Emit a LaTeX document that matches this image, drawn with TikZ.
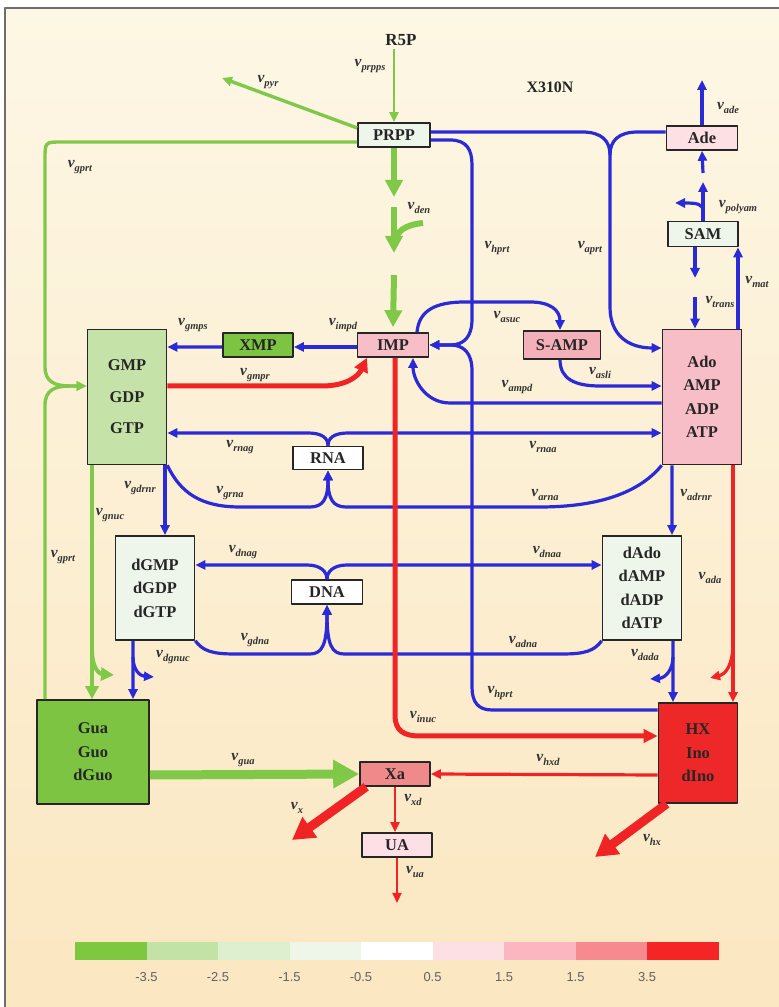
\documentclass[tikz,border=0pt]{standalone}
\usepackage{fontspec}
\setmainfont{Liberation Serif}
\newfontfamily\barfont{Liberation Sans}
\usetikzlibrary{arrows.meta}
\newcommand{\flux}[1]{{\fontsize{15.5}{15}\selectfont\bfseries\itshape v}{\fontsize{10.5}{11}\selectfont\bfseries\itshape\raisebox{-3.5bp}{#1}}}

\definecolor{bgtop}{RGB}{253,247,229}
\definecolor{bgbot}{RGB}{251,231,193}
\definecolor{framegray}{RGB}{110,110,110}
\definecolor{fluxgreen}{RGB}{128,200,72}
\definecolor{fluxblue}{RGB}{42,42,214}
\definecolor{fluxred}{RGB}{240,36,36}

\tikzset{
  metabox/.style={draw=black!85,line width=1.6bp,inner sep=0pt,align=center,
    font=\fontsize{16.5}{23.5}\selectfont\bfseries,text=black!85},
  flux/.style={inner sep=0pt,text=black!80},
  gline/.style={draw=fluxgreen,line width=3.4bp},
  bline/.style={draw=fluxblue,line width=3.2bp},
  rline/.style={draw=fluxred,line width=3.2bp},
  bigtip/.style={-{Triangle[length=17bp,width=17bp]}},
}

\begin{document}
\begin{tikzpicture}[>={Triangle[length=10bp,width=9bp]},line join=round]
%%
  \path[use as bounding box] (0bp,0bp) rectangle (779bp,1007bp);
  \fill[white] (0bp,0bp) rectangle (779bp,1007bp);
  \shade[top color=bgtop,bottom color=bgbot] (5bp,0bp) rectangle (779bp,999bp);
  \draw[framegray,line width=1.5bp] (5bp,0bp) -- (5bp,999bp) -- (779bp,999bp);
%%
  \node (r5p) at (401bp,967bp) [font=\fontsize{17}{18}\selectfont\bfseries,text=black!85] {R5P};
  \node (strain) at (550bp,920bp) [font=\fontsize{16}{18}\selectfont\bfseries,text=black!85] {X310N};
  \definecolor{fillcolor}{RGB}{238,245,234};
  \node (prpp) at (394bp,872bp) [metabox,fill=fillcolor,minimum width=72bp,minimum height=24bp] {PRPP};
  \definecolor{fillcolor}{RGB}{252,224,228};
  \node (ade) at (702bp,869bp) [metabox,fill=fillcolor,minimum width=71bp,minimum height=24bp] {Ade};
  \definecolor{fillcolor}{RGB}{238,245,234};
  \node (sam) at (703bp,773bp) [metabox,fill=fillcolor,minimum width=70bp,minimum height=25bp] {SAM};
  \definecolor{fillcolor}{RGB}{248,190,200};
  \node (imp) at (393bp,662bp) [metabox,fill=fillcolor,minimum width=71bp,minimum height=24bp] {IMP};
  \definecolor{fillcolor}{RGB}{125,196,66};
  \node (xmp) at (258bp,662bp) [metabox,fill=fillcolor,minimum width=70bp,minimum height=24bp] {XMP};
  \definecolor{fillcolor}{RGB}{244,176,184};
  \node (samp) at (562bp,662bp) [metabox,fill=fillcolor,minimum width=77bp,minimum height=28bp] {S-AMP};
  \definecolor{fillcolor}{RGB}{197,227,168};
  \node (gmp) at (127bp,610bp) [metabox,fill=fillcolor,minimum width=79bp,minimum height=135bp] {GMP\\[8bp]GDP\\[8bp]GTP};
  \definecolor{fillcolor}{RGB}{248,190,200};
  \node (ado) at (702bp,610bp) [metabox,fill=fillcolor,minimum width=79bp,minimum height=135bp] {Ado\\AMP\\ADP\\ATP};
  \node (rna) at (328bp,549bp) [metabox,fill=white,minimum width=70bp,minimum height=23bp] {RNA};
  \node (dna) at (327bp,415bp) [metabox,fill=white,minimum width=71bp,minimum height=24bp] {DNA};
  \definecolor{fillcolor}{RGB}{238,245,234};
  \node (dgmp) at (155bp,419bp) [metabox,fill=fillcolor,minimum width=79bp,minimum height=104bp] {dGMP\\dGDP\\dGTP};
  \node (dado) at (642bp,419bp) [metabox,fill=fillcolor,minimum width=79bp,minimum height=104bp] {dAdo\\dAMP\\dADP\\dATP};
  \definecolor{fillcolor}{RGB}{125,196,66};
  \node (gua) at (93bp,255bp) [metabox,fill=fillcolor,minimum width=112bp,minimum height=104bp] {Gua\\Guo\\dGuo};
  \definecolor{fillcolor}{RGB}{238,40,40};
  \node (hx) at (698bp,254bp) [metabox,fill=fillcolor,minimum width=79bp,minimum height=100bp] {HX\\Ino\\dIno};
  \definecolor{fillcolor}{RGB}{240,138,138};
  \node (xa) at (395bp,233bp) [metabox,fill=fillcolor,minimum width=70bp,minimum height=24bp] {Xa};
  \definecolor{fillcolor}{RGB}{253,224,230};
  \node (ua) at (397bp,162bp) [metabox,fill=fillcolor,minimum width=70bp,minimum height=24bp] {UA};
%%
  \coordinate (pyr_end) at (222bp,929bp);
  \coordinate (ade_end) at (702bp,927bp);
  \coordinate (polyam_end) at (675bp,804bp);
  \coordinate (ua_end) at (397bp,104bp);
  \coordinate (x_end) at (292bp,167bp);
  \coordinate (hx_end) at (595bp,150bp);
  \coordinate (den_a) at (394bp,810bp);
  \coordinate (den_b) at (394bp,800bp);
  \coordinate (den_c) at (394bp,754bp);
  \coordinate (den_d) at (394bp,732bp);
  \coordinate (den_in) at (423bp,784bp);
  \coordinate (polyam_a) at (703bp,825bp);
  \coordinate (polyam_b) at (703bp,834bp);
  \coordinate (trans_a) at (695bp,729bp);
  \coordinate (trans_b) at (695bp,710bp);
  \coordinate (gnuc_end) at (114bp,332bp);
  \coordinate (dgnuc_end) at (154bp,330bp);
  \coordinate (dada_end) at (650bp,328bp);
  \coordinate (ada_end) at (710bp,329bp);
%% green
  \draw [gline,line width=2.4bp,->] (r5p.south -| prpp.north) -- (prpp.north);
  \draw [gline,->] ([yshift=7bp]prpp.west) -- (pyr_end);
  \draw [gline,->] ([yshift=-7bp]prpp.west) -- (62bp,865bp) .. controls (45bp,865bp) .. (45bp,848bp) -- (45bp,640bp) .. controls (45bp,625bp) and (55bp,621bp) .. (70bp,621bp) -- ([yshift=11bp]gmp.west);
  \draw [gline,->] ([xshift=-48bp]gua.north) -- (45bp,602bp) .. controls (45bp,617bp) and (55bp,621bp) .. (70bp,621bp) -- ([yshift=11bp]gmp.west);
  \draw [gline,line width=6bp,bigtip] (prpp.south) -- (den_a);
  \draw [gline,line width=6bp,bigtip] (den_b) -- (den_c);
  \draw [gline,line width=6bp] (den_in) .. controls (405bp,782bp) and (396bp,776bp) .. (395bp,764bp);
  \draw [gline,line width=6bp,bigtip] (den_d) -- ([yshift=5bp]imp.north);
  \draw [gline,line width=4bp,-{Triangle[length=13bp,width=13bp]}] ([xshift=-35bp]gmp.south) -- ([xshift=-1bp]gua.north);
  \draw [gline,line width=4bp,-{Triangle[length=13bp,width=13bp]}] (92bp,356bp) .. controls (92bp,340bp) and (99bp,333bp) .. (gnuc_end);
  \draw [gline,line width=9bp,-{Triangle[length=26bp,width=27bp]}] ([yshift=-23bp]gua.east) -- (xa.west);
%% blue
  \draw [bline,->] ([yshift=3bp]prpp.east) -- (582bp,875bp) .. controls (602bp,875bp) and (610bp,866bp) .. (610bp,852bp) -- (610bp,700bp) .. controls (610bp,672bp) and (628bp,659bp) .. ([yshift=49bp]ado.west);
  \draw [bline] ([yshift=6bp]ade.west) -- (638bp,875bp) .. controls (618bp,875bp) and (610bp,866bp) .. (610bp,852bp);
  \draw [bline,->] ([yshift=-5bp]prpp.east) -- (450bp,867bp) .. controls (467bp,867bp) and (472bp,857bp) .. (472bp,842bp) -- (472bp,688bp) .. controls (472bp,670bp) and (464bp,662bp) .. (450bp,662bp) -- (imp.east);
  \draw [bline,->] ([yshift=43bp]hx.west) -- (492bp,297bp) .. controls (478bp,297bp) and (472bp,305bp) .. (472bp,320bp) -- (472bp,636bp) .. controls (472bp,654bp) and (464bp,662bp) .. (450bp,662bp) -- (imp.east);
  \draw [bline,->] ([xshift=24bp]imp.north) .. controls (419bp,697bp) and (436bp,705bp) .. (465bp,705bp) -- (530bp,705bp) .. controls (550bp,705bp) and (560bp,697bp) .. ([xshift=-2bp]samp.north);
  \draw [bline,->] ([xshift=-2bp]samp.south) .. controls (560bp,628bp) and (575bp,621bp) .. (600bp,621bp) -- ([yshift=11bp]ado.west);
  \draw [bline,->] ([yshift=-6bp]ado.west) -- (450bp,604bp) .. controls (425bp,604bp) and (413bp,628bp) .. ([xshift=20bp]imp.south);
  \draw [bline,->] ([yshift=-2bp]imp.west) -- ([yshift=-2bp]xmp.east);
  \draw [bline,->] ([yshift=-2bp]xmp.west) -- ([yshift=50bp]gmp.east);
  \draw [bline,->] (rna.north) .. controls (328bp,569bp) and (322bp,574bp) .. (308bp,574bp) -- ([yshift=-36bp]gmp.east);
  \draw [bline,->] (rna.north) .. controls (328bp,569bp) and (334bp,574bp) .. (348bp,574bp) -- ([yshift=-36bp]ado.west);
  \draw [bline,->] (gmp.south east) .. controls (180bp,515bp) and (200bp,500bp) .. (240bp,500bp) -- (310bp,500bp) .. controls (323bp,500bp) and (328bp,508bp) .. (rna.south);
  \draw [bline,->] (ado.south west) .. controls (640bp,515bp) and (600bp,500bp) .. (540bp,500bp) -- (346bp,500bp) .. controls (333bp,500bp) and (328bp,508bp) .. (rna.south);
  \draw [bline,->] ([xshift=38bp]gmp.south) -- ([xshift=10bp]dgmp.north);
  \draw [bline,->] ([xshift=-30bp]ado.south) -- ([xshift=30bp]dado.north);
  \draw [bline,->] (dna.north) .. controls (327bp,435bp) and (321bp,442bp) .. (307bp,442bp) -- ([yshift=23bp]dgmp.east);
  \draw [bline,->] (dna.north) .. controls (327bp,435bp) and (333bp,442bp) .. (347bp,442bp) -- ([yshift=23bp]dado.west);
  \draw [bline,->] (dgmp.south east) .. controls (203bp,356bp) and (212bp,353bp) .. (235bp,353bp) -- (310bp,353bp) .. controls (322bp,353bp) and (327bp,362bp) .. (dna.south);
  \draw [bline,->] (dado.south west) .. controls (594bp,356bp) and (585bp,353bp) .. (562bp,353bp) -- (344bp,353bp) .. controls (332bp,353bp) and (327bp,362bp) .. (dna.south);
  \draw [bline,->] ([xshift=-22bp]dgmp.south) -- ([xshift=40bp]gua.north);
  \draw [bline,->] (133bp,350bp) .. controls (133bp,337bp) and (140bp,331bp) .. (dgnuc_end);
  \draw [bline,->] ([xshift=31bp]dado.south) -- ([xshift=-25bp]hx.north);
  \draw [bline,->] (673bp,350bp) .. controls (673bp,337bp) and (665bp,329bp) .. (dada_end);
  \draw [bline,->] (ade.north) -- (ade_end);
  \draw [bline,->] (sam.north) -- (polyam_a);
  \draw [bline,->] (703bp,796bp) .. controls (703bp,803bp) and (697bp,804bp) .. (polyam_end);
  \draw [bline,->] (polyam_b) -- (ade.south);
  \draw [bline,->] ([xshift=-8bp]sam.south) -- (trans_a);
  \draw [bline,->] (trans_b) -- ([xshift=-7bp]ado.north);
  \draw [bline,->] ([xshift=36bp]ado.north) -- ([xshift=35bp]sam.south);
%% red
  \draw [rline,line width=5bp,-{Triangle[length=14bp,width=14bp]}] ([yshift=11bp]gmp.east) -- (322bp,621bp) .. controls (345bp,621bp) and (358bp,630bp) .. ([xshift=-26bp]imp.south);
  \draw [rline,line width=5bp,-{Triangle[length=14bp,width=13bp]}] ([xshift=2bp]imp.south) -- (395bp,292bp) .. controls (395bp,276bp) and (404bp,271bp) .. (420bp,271bp) -- ([yshift=17bp]hx.west);
  \draw [rline,->] ([xshift=31bp]ado.south) -- ([xshift=35bp]hx.north);
  \draw [rline,->] (733bp,365bp) .. controls (733bp,342bp) and (726bp,333bp) .. (ada_end);
  \draw [rline,->] ([yshift=-22bp]hx.west) -- (xa.east);
  \draw [rline,line width=2.2bp,->] (xa.south) -- ([xshift=-2bp]ua.north);
  \draw [rline,line width=2.2bp,->] (ua.south) -- (ua_end);
  \draw [rline,line width=9bp,-{Triangle[length=22bp,width=24bp]}] ([xshift=7bp]xa.south west) -- (x_end);
  \draw [rline,line width=9bp,-{Triangle[length=22bp,width=24bp]}] ([xshift=9bp]hx.south west) -- (hx_end);
%% flux labels
  \node (l_prpps) at (370bp,941bp) [flux] {\flux{prpps}};
  \node (l_pyr) at (268bp,925bp) [flux] {\flux{pyr}};
  \node (l_gprt1) at (80bp,840bp) [flux] {\flux{gprt}};
  \node (l_gprt2) at (63bp,450bp) [flux] {\flux{gprt}};
  \node (l_den) at (419bp,799bp) [flux] {\flux{den}};
  \node (l_hprt1) at (497bp,759bp) [flux] {\flux{hprt}};
  \node (l_aprt) at (590bp,759bp) [flux] {\flux{aprt}};
  \node (l_ade) at (728bp,899bp) [flux] {\flux{ade}};
  \node (l_polyam) at (738bp,800bp) [flux] {\flux{polyam}};
  \node (l_trans) at (720bp,705bp) [flux] {\flux{trans}};
  \node (l_mat) at (757bp,725bp) [flux] {\flux{mat}};
  \node (l_gmps) at (193bp,682bp) [flux] {\flux{gmps}};
  \node (l_impd) at (343bp,682bp) [flux] {\flux{impd}};
  \node (l_asuc) at (507bp,690bp) [flux] {\flux{asuc}};
  \node (l_asli) at (600bp,634bp) [flux] {\flux{asli}};
  \node (l_ampd) at (517bp,620bp) [flux] {\flux{ampd}};
  \node (l_gmpr) at (255bp,632bp) [flux] {\flux{gmpr}};
  \node (l_rnag) at (240bp,560bp) [flux] {\flux{rnag}};
  \node (l_rnaa) at (543bp,560bp) [flux] {\flux{rnaa}};
  \node (l_grna) at (230bp,514bp) [flux] {\flux{grna}};
  \node (l_arna) at (545bp,512bp) [flux] {\flux{arna}};
  \node (l_gdrnr) at (140bp,519bp) [flux] {\flux{gdrnr}};
  \node (l_adrnr) at (696bp,512bp) [flux] {\flux{adrnr}};
  \node (l_gnuc) at (110bp,492bp) [flux] {\flux{gnuc}};
  \node (l_dnag) at (243bp,455bp) [flux] {\flux{dnag}};
  \node (l_dnaa) at (547bp,455bp) [flux] {\flux{dnaa}};
  \node (l_gdna) at (255bp,367bp) [flux] {\flux{gdna}};
  \node (l_adna) at (523bp,365bp) [flux] {\flux{adna}};
  \node (l_dgnuc) at (173bp,350bp) [flux] {\flux{dgnuc}};
  \node (l_dada) at (645bp,352bp) [flux] {\flux{dada}};
  \node (l_ada) at (710bp,429bp) [flux] {\flux{ada}};
  \node (l_hprt2) at (500bp,314bp) [flux] {\flux{hprt}};
  \node (l_inuc) at (423bp,290bp) [flux] {\flux{inuc}};
  \node (l_gua) at (243bp,247bp) [flux] {\flux{gua}};
  \node (l_hxd) at (548bp,247bp) [flux] {\flux{hxd}};
  \node (l_xd) at (413bp,207bp) [flux] {\flux{xd}};
  \node (l_x) at (297bp,199bp) [flux] {\flux{x}};
  \node (l_hx) at (652bp,167bp) [flux] {\flux{hx}};
  \node (l_ua) at (415bp,135bp) [flux] {\flux{ua}};
%% colour bar
  \fill[fill={rgb,255:red,125;green,200;blue,62}] (75bp,47bp) rectangle (146.5bp,65bp);
  \fill[fill={rgb,255:red,194;green,227;blue,165}] (146.5bp,47bp) rectangle (218bp,65bp);
  \fill[fill={rgb,255:red,222;green,239;blue,208}] (218bp,47bp) rectangle (289.5bp,65bp);
  \fill[fill={rgb,255:red,238;green,246;blue,234}] (289.5bp,47bp) rectangle (361bp,65bp);
  \fill[fill=white] (361bp,47bp) rectangle (432.5bp,65bp);
  \fill[fill={rgb,255:red,253;green,224;blue,228}] (432.5bp,47bp) rectangle (504bp,65bp);
  \fill[fill={rgb,255:red,251;green,182;blue,192}] (504bp,47bp) rectangle (575.5bp,65bp);
  \fill[fill={rgb,255:red,246;green,138;blue,142}] (575.5bp,47bp) rectangle (647bp,65bp);
  \fill[fill={rgb,255:red,245;green,37;blue,37}] (647bp,47bp) rectangle (718.5bp,65bp);
  \node (t1) at (146.5bp,30bp) [font=\barfont\fontsize{13}{15}\selectfont,text=black!62] {-3.5};
  \node (t2) at (218bp,30bp) [font=\barfont\fontsize{13}{15}\selectfont,text=black!62] {-2.5};
  \node (t3) at (289.5bp,30bp) [font=\barfont\fontsize{13}{15}\selectfont,text=black!62] {-1.5};
  \node (t4) at (361bp,30bp) [font=\barfont\fontsize{13}{15}\selectfont,text=black!62] {-0.5};
  \node (t5) at (432.5bp,30bp) [font=\barfont\fontsize{13}{15}\selectfont,text=black!62] {0.5};
  \node (t6) at (504bp,30bp) [font=\barfont\fontsize{13}{15}\selectfont,text=black!62] {1.5};
  \node (t7) at (575.5bp,30bp) [font=\barfont\fontsize{13}{15}\selectfont,text=black!62] {1.5};
  \node (t8) at (647bp,30bp) [font=\barfont\fontsize{13}{15}\selectfont,text=black!62] {3.5};
%
\end{tikzpicture}
\end{document}
